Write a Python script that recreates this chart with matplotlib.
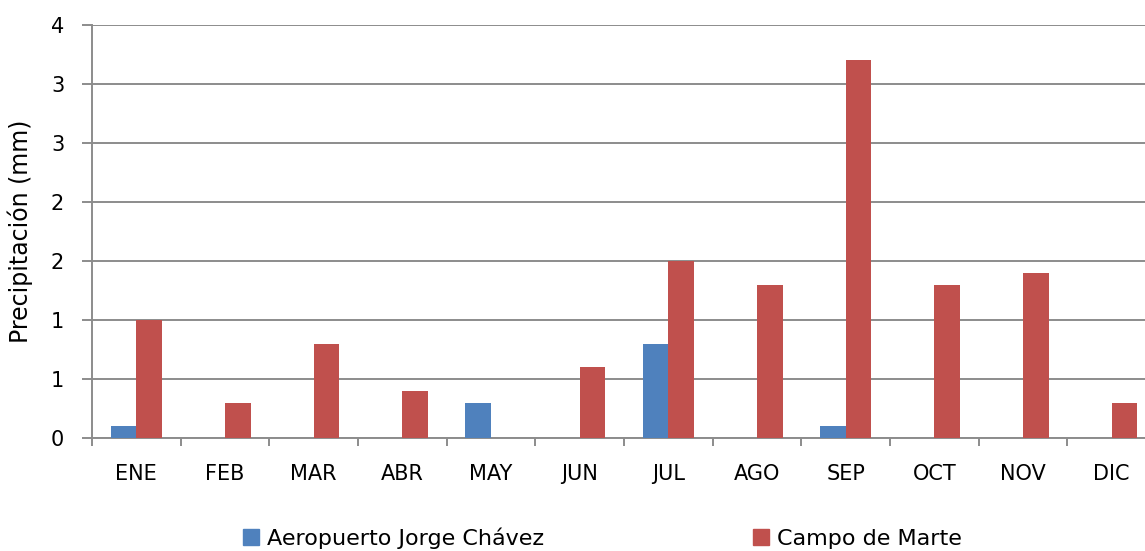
import matplotlib
matplotlib.use("Agg")
import matplotlib.pyplot as plt
import numpy as np
from matplotlib.ticker import FuncFormatter, MultipleLocator
from matplotlib.patches import Patch

months = ["ENE", "FEB", "MAR", "ABR", "MAY", "JUN", "JUL", "AGO", "SEP", "OCT", "NOV", "DIC"]
aeropuerto = [0.1, 0.0, 0.0, 0.0, 0.3, 0.0, 0.8, 0.0, 0.1, 0.0, 0.0, 0.0]
campo_marte = [1.0, 0.3, 0.8, 0.4, 0.0, 0.6, 1.5, 1.3, 3.2, 1.3, 1.4, 0.3]
series_names = ["Aeropuerto Jorge Chávez", "Campo de Marte"]

blue = "#4F81BD"
red = "#C0504D"
grid_c = "#8C8C8C"

plt.rcParams['font.family'] = ['DejaVu Sans']
fig = plt.figure(figsize=(11.45, 5.51), dpi=100)
ax = fig.add_axes([92/1145, 113/551, (1156-92)/1145, (438-25)/551])

x = np.arange(len(months))
w = 0.29
ax.bar(x - w/2, aeropuerto, w, color=blue, zorder=3)
ax.bar(x + w/2, campo_marte, w, color=red, zorder=3)

ax.set_xlim(-0.5, len(months) - 0.5)
ax.set_ylim(0, 3.5)
ax.yaxis.set_major_locator(MultipleLocator(0.5))
ax.yaxis.set_major_formatter(FuncFormatter(lambda v, p: str(int(np.floor(v + 0.5 + 1e-9)))))
ax.grid(axis='y', color=grid_c, linewidth=1.4, zorder=0)

ax.set_xticks(x)
ax.set_xticklabels(months)
ax.set_xticks(np.arange(-0.5, len(months), 1), minor=True)
ax.tick_params(axis='x', which='major', length=0, pad=19, labelsize=15)
ax.tick_params(axis='x', which='minor', length=6, color=grid_c, width=1.4)
ax.tick_params(axis='y', length=7, color=grid_c, width=1.4, labelsize=15, pad=13)

for s in ['top', 'right']:
    ax.spines[s].set_visible(False)
for s in ['left', 'bottom']:
    ax.spines[s].set_color(grid_c)
    ax.spines[s].set_linewidth(1.4)

ax.set_ylabel("Precipitación (mm)", fontsize=17)
ax.yaxis.set_label_coords(-59/1064, 0.5)

legend_x = [243/1145, 753/1145]
for name, col, lx in zip(series_names, [blue, red], legend_x):
    fig.legend([Patch(color=col)], [name], loc='lower left', bbox_to_anchor=(lx, 2/551),
               frameon=False, fontsize=16, handlelength=0.7, handleheight=0.7,
               handletextpad=0.4, borderpad=0, borderaxespad=0)

fig.savefig("out.png", dpi=100)
